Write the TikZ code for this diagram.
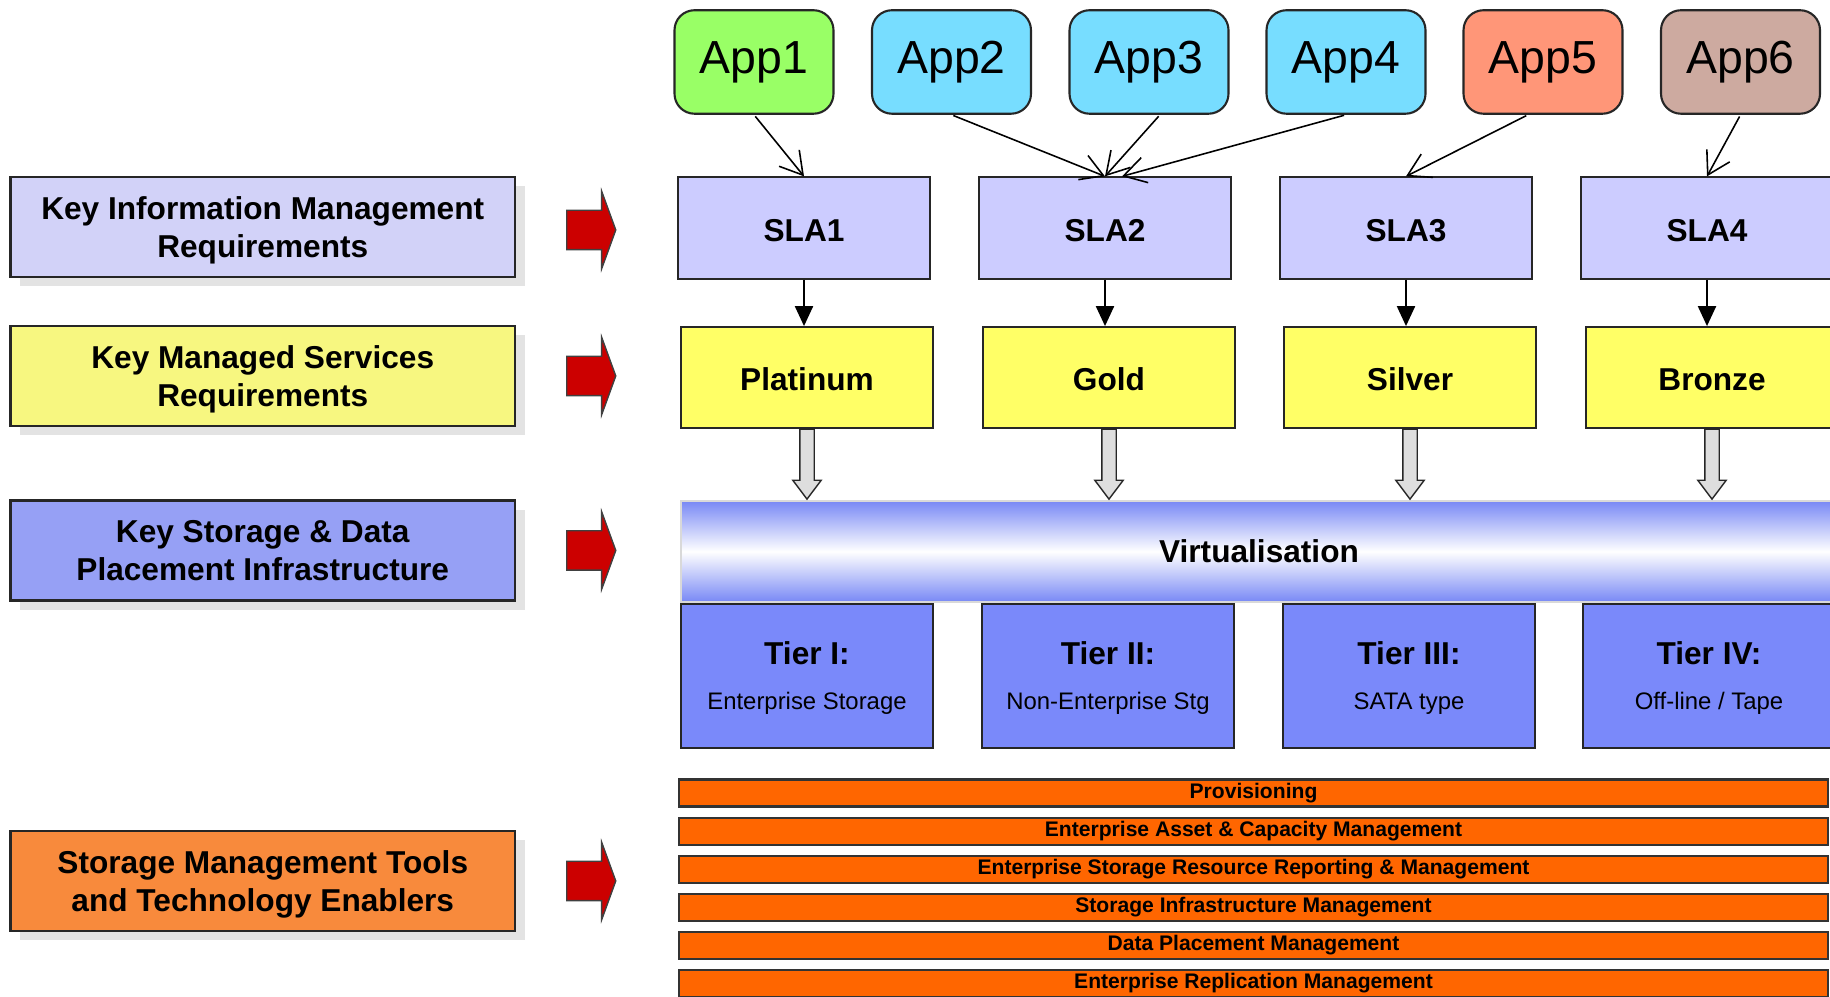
\documentclass[tikz,border=0pt]{standalone}
\usepackage{fontspec}
\setmainfont{Liberation Sans}
\usepackage{tikz}
\usetikzlibrary{shapes.arrows}
\usetikzlibrary{shadows}
\usetikzlibrary{positioning}
\usetikzlibrary{arrows.meta}
\definecolor{kimfill}{RGB}{210,210,248}
\definecolor{kmsfill}{RGB}{247,247,128}
\definecolor{ksdfill}{RGB}{150,160,245}
\definecolor{smtfill}{RGB}{248,138,60}
\definecolor{appgreen}{RGB}{153,255,102}
\definecolor{appcyan}{RGB}{119,221,255}
\definecolor{appsalmon}{RGB}{255,150,120}
\definecolor{apptaupe}{RGB}{205,170,160}
\definecolor{slafill}{RGB}{204,204,255}
\definecolor{svcfill}{RGB}{255,255,102}
\definecolor{tierfill}{RGB}{122,137,250}
\definecolor{virtblue}{RGB}{120,136,245}
\definecolor{barfill}{RGB}{255,102,0}
\definecolor{arrowred}{RGB}{204,0,0}
\newcommand{\tiersub}{\mdseries\fontsize{6.8}{8}\selectfont}
\tikzset{
    reqbox/.style = {rectangle, draw=black!85, line width=0.6pt, minimum width=5.045cm, minimum height=1.0cm, inner sep=0pt, align=center, text depth=0pt, font=\bfseries\fontsize{9}{11}\selectfont, general shadow={fill=black!11, shadow xshift=0.095cm, shadow yshift=-0.095cm}},
    redarrow/.style = {single arrow, draw=black!75, line width=0.4pt, fill=arrowred, minimum height=0.49cm, inner xsep=0pt, inner ysep=0.19cm, single arrow head extend=0.19cm, single arrow tip angle=140},
    appnode/.style = {rectangle, rounded corners=0.2cm, draw=black!85, line width=0.6pt, minimum width=1.59cm, minimum height=1.035cm, inner sep=0pt, font=\fontsize{13.2}{15}\selectfont},
    slanode/.style = {rectangle, draw=black!85, line width=0.5pt, fill=slafill, minimum width=2.52cm, minimum height=1.015cm, inner sep=0pt, text height=7.6pt, text depth=0pt, font=\bfseries\fontsize{9}{11}\selectfont},
    svcnode/.style = {slanode, fill=svcfill, minimum height=1.01cm},
    tiernode/.style = {rectangle, draw=black!85, line width=0.5pt, fill=tierfill, minimum width=2.52cm, minimum height=1.435cm, inner sep=0pt, align=center, text depth=0pt, font=\bfseries\fontsize{9}{11}\selectfont},
    barnode/.style = {rectangle, draw=black!80, line width=0.6pt, fill=barfill, minimum width=11.49cm, minimum height=0.27cm, inner sep=0pt, font=\bfseries\fontsize{6}{7}\selectfont},
    hollowarrow/.style = {single arrow, rotate=-90, draw=black!85, line width=0.4pt, fill=black!13, minimum height=0.70cm, inner xsep=0pt, inner ysep=0.065cm, single arrow head extend=0.07cm, single arrow tip angle=74},
    edgeapp/.style = {-{Straight Barb[length=0.22cm,width=0.26cm]}, line width=0.45pt, shorten <=0.02cm},
    edgesvc/.style = {-{Triangle[length=0.2cm,width=0.18cm]}, line width=0.6pt},
}

\begin{document}
\begin{tikzpicture}[
    vband/.style={rectangle, draw=black!15, line width=0.4pt, top color=virtblue, bottom color=virtblue, middle color=white, minimum width=11.56cm, minimum height=1.01cm, inner sep=0pt, font=\bfseries\fontsize{9}{11}\selectfont},
]
\useasboundingbox (0,0) rectangle (18.30,9.97);

% requirements
\node[reqbox, fill=kimfill] at (2.6275, 7.70) (kim) {Key Information Management\\Requirements};
\node[reqbox, fill=kmsfill] at (2.6275, 6.21) (kms) {Key Managed Services\\Requirements};
\node[reqbox, fill=ksdfill] at (2.6275, 4.465) (ksd) {Key Storage \& Data\\Placement Infrastructure};
\node[reqbox, fill=smtfill] at (2.6275, 1.16) (smt) {Storage Management Tools\\and Technology Enablers};
\node[redarrow, right=0.5cm of kim, yshift=-0.03cm] (ra1) {};
\node[redarrow, right=0.5cm of kms] (ra2) {};
\node[redarrow, right=0.5cm of ksd] (ra3) {};
\node[redarrow, right=0.5cm of smt] (ra4) {};

% applications
\node[appnode, fill=appgreen] at (7.54, 9.35) (app1) {App1};
\node[appnode, fill=appcyan] at (9.515, 9.35) (app2) {App2};
\node[appnode, fill=appcyan] at (11.49, 9.35) (app3) {App3};
\node[appnode, fill=appcyan] at (13.46, 9.35) (app4) {App4};
\node[appnode, fill=appsalmon] at (15.43, 9.35) (app5) {App5};
\node[appnode, fill=apptaupe] at (17.405, 9.35) (app6) {App6};

% service levels
\node[slanode] at (8.04, 7.69) (sla1) {SLA1};
\node[slanode] at (11.05, 7.69) (sla2) {SLA2};
\node[slanode] at (14.06, 7.69) (sla3) {SLA3};
\node[slanode] at (17.07, 7.69) (sla4) {SLA4};
\node[svcnode] at (8.07, 6.195) (plat) {Platinum};
\node[svcnode] at (11.09, 6.195) (gold) {Gold};
\node[svcnode] at (14.10, 6.195) (silv) {Silver};
\node[svcnode] at (17.12, 6.195) (bronz) {Bronze};

% storage
\node[vband] at (12.59, 4.455) (virt) {Virtualisation};
\node[tiernode] at (8.07, 3.21) (tier1) {Tier I:\\[1.8pt]{\tiersub Enterprise Storage}};
\node[tiernode] at (11.08, 3.21) (tier2) {Tier II:\\[1.8pt]{\tiersub Non-Enterprise Stg}};
\node[tiernode] at (14.09, 3.21) (tier3) {Tier III:\\[1.8pt]{\tiersub SATA type}};
\node[tiernode] at (17.09, 3.21) (tier4) {Tier IV:\\[1.8pt]{\tiersub Off-line / Tape}};
\node[hollowarrow, anchor=tip] at (plat.south |- virt.north) (ha1) {};
\node[hollowarrow, anchor=tip] at (gold.south |- virt.north) (ha2) {};
\node[hollowarrow, anchor=tip] at (silv.south |- virt.north) (ha3) {};
\node[hollowarrow, anchor=tip] at (bronz.south |- virt.north) (ha4) {};

% tools
\node[barnode] at (12.535, 2.04) (bar1) {Provisioning};
\node[barnode] at (12.535, 1.659) (bar2) {Enterprise Asset \& Capacity Management};
\node[barnode] at (12.535, 1.278) (bar3) {Enterprise Storage Resource Reporting \& Management};
\node[barnode] at (12.535, 0.897) (bar4) {Storage Infrastructure Management};
\node[barnode] at (12.535, 0.516) (bar5) {Data Placement Management};
\node[barnode] at (12.535, 0.135) (bar6) {Enterprise Replication Management};
%
\draw[edgeapp] (app1.south) -- (sla1.north);
\draw[edgeapp] (app2.south) -- (sla2.north);
\draw[edgeapp] ([xshift=0.11cm]app3.south) -- (sla2.north);
\draw[edgeapp] (app4.south) -- ([xshift=0.17cm]sla2.north);
\draw[edgeapp] ([xshift=-0.15cm]app5.south) -- (sla3.north);
\draw[edgeapp] (app6.south) -- (sla4.north);
\draw[edgesvc] (sla1) -- (sla1 |- plat.north);
\draw[edgesvc] (sla2) -- (sla2 |- gold.north);
\draw[edgesvc] (sla3) -- (sla3 |- silv.north);
\draw[edgesvc] (sla4) -- (sla4 |- bronz.north);

\end{tikzpicture}
\end{document}
